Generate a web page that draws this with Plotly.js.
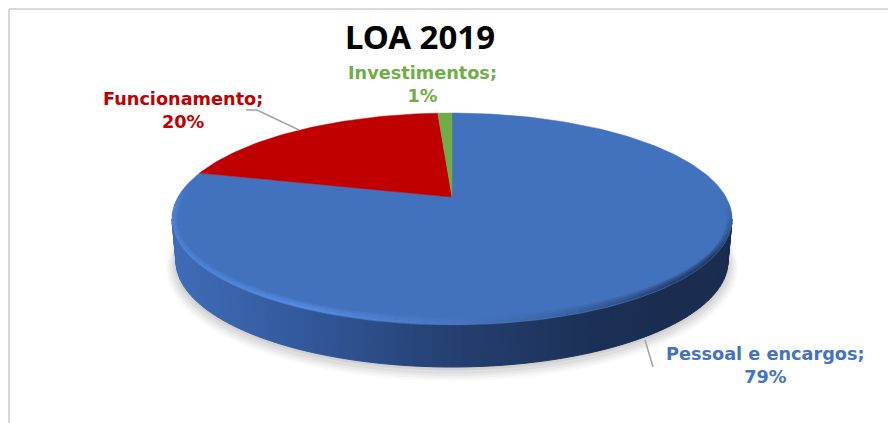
<!DOCTYPE html>
<html><head><meta charset="utf-8">
<script src="https://cdn.plot.ly/plotly-3.0.1.min.js"></script>
<style>html,body{margin:0;padding:0;background:#fff}#c{width:888px;height:423px}</style>
</head><body><div id="c"></div>
<script>
const categories = ['Pessoal e encargos', 'Funcionamento', 'Investimentos'];
const values = [79, 20, 1];
const sliceColors = ['#4271BD', '#C00000', '#70AD47'];
const labelColors = ['#4472C4', '#C00000', '#70AD47'];
const chartTitle = 'LOA 2019';

// projection of the tilted disc
const cx = 452, apexY = 197, A = 274, B = 101.4, K = 0.2075;
const ellipseY = 219, rx = 280, ry = 106, depth = 42;

function rgbInterp(stops, x) {
  if (x <= stops[0][0]) return stops[0][1];
  for (let i = 1; i < stops.length; i++) {
    if (x <= stops[i][0]) {
      const f = (x - stops[i-1][0]) / (stops[i][0] - stops[i-1][0]);
      const a = stops[i-1][1], b = stops[i][1];
      return a.map((v, j) => v + (b[j] - v) * f);
    }
  }
  return stops[stops.length-1][1];
}
const asRgb = c => 'rgb(' + c.map(Math.round).join(',') + ')';
const mix = (c, d, f) => c.map((v, i) => v + (d[i] - v) * f);
const faceRgb = [66, 113, 189];
const base = {type:'scatter', mode:'lines', hoverinfo:'skip', showlegend:false};
const traces = [];

// soft shadow
[[10,7,0.025],[8,6,0.03],[6,5,0.035],[4,4,0.04],[2,2,0.05],[0,1,0.05]].forEach(([g,o,al]) => {
  const xs = [], ys = [];
  for (let t = 0; t <= 360; t += 3) {
    xs.push(cx + (276 + g) * Math.cos(t*Math.PI/180));
    ys.push(ellipseY + depth + o + (ry + g*0.7) * Math.sin(t*Math.PI/180));
  }
  traces.push({...base, x:xs, y:ys, fill:'toself', fillcolor:'rgba(0,0,0,'+al+')', line:{width:0}});
});

// side wall
const wallStops = [[170,[64,108,184]],[300,[50,88,155]],[450,[36,63,112]],[600,[27,47,85]],[680,[26,44,79]]];
for (let t = 180; t > 0; t -= 2) {
  const a = t*Math.PI/180, b = (t-2)*Math.PI/180;
  const xs = [cx+rx*Math.cos(a), cx+rx*Math.cos(b), cx+276*Math.cos(b), cx+276*Math.cos(a)];
  const ys = [ellipseY+ry*Math.sin(a), ellipseY+ry*Math.sin(b), ellipseY+depth+ry*Math.sin(b), ellipseY+depth+ry*Math.sin(a)];
  const col = asRgb(rgbInterp(wallStops, xs[0]));
  traces.push({...base, x:[...xs, xs[0]], y:[...ys, ys[0]], fill:'toself', fillcolor:col, line:{width:1, color:col}});
}

// top face slices, from the values
const total = values.reduce((s, v) => s + v, 0);
let acc = 0;
values.forEach((v, i) => {
  const xs = [cx], ys = [apexY], n = Math.ceil(v * 3) + 2;
  for (let j = 0; j <= n; j++) {
    const th = 2 * Math.PI * (acc + v * j / n) / total;
    const d = 1 + K * Math.cos(th);
    xs.push(cx + A * Math.sin(th) / d);
    ys.push(apexY - B * Math.cos(th) / d);
  }
  xs.push(cx); ys.push(apexY);
  traces.push({...base, name:categories[i], x:xs, y:ys, fill:'toself', fillcolor:sliceColors[i], line:{width:0.5, color:sliceColors[i]}});
  acc += v;
});

// bevelled rim, soft towards the inside and faded at both ends
const rimStops = [[170,[76,128,210]],[300,[86,140,224]],[450,[72,118,190]],[560,[58,98,164]],[680,[36,62,108]],[735,[34,58,100]]];
[[6.5,4,0.35,3],[4.5,3,0.7,2.5],[2,1.2,1,2.5]].forEach(([inY,inX,strength,w]) => {
  for (let t = 198; t > -6; t -= 3) {
    const a = t*Math.PI/180, b = (t-3)*Math.PI/180;
    const xs = [cx+(rx-inX)*Math.cos(a), cx+(rx-inX)*Math.cos(b)];
    const ys = [ellipseY+(ry-inY)*Math.sin(a), ellipseY+(ry-inY)*Math.sin(b)];
    const c = rgbInterp(rimStops, xs[0]);
    const fade = Math.min(1, (t + 6) / 30, (198 - t) / 12 + 0.2);
    traces.push({...base, x:xs, y:ys, line:{width:w, color:asRgb(mix(faceRgb, c, strength * fade))}});
  }
});

const lbl = (i, x, y) => ({
  x, y, xref:'x', yref:'y', showarrow:false, align:'center', xanchor:'center', yanchor:'middle',
  text: '<b>' + categories[i] + ';</b><br><b>' + values[i] + '%</b>',
  font:{family:'"DejaVu Sans", Verdana, sans-serif', size:17.7, color:labelColors[i]},
});
const annotations = [lbl(0, 765, 365.5), lbl(1, 183, 110.5), lbl(2, 422, 84)];

const gray = {color:'#A6A6A6', width:1.6};
const frame = {color:'#D9D9D9', width:2};
const shapes = [
  {type:'line', xref:'x', yref:'y', x0:9, y0:9, x1:888, y1:9, line:frame},
  {type:'line', xref:'x', yref:'y', x0:9, y0:9, x1:9, y1:423, line:frame},
  {type:'line', xref:'x', yref:'y', x0:246, y0:110, x1:257, y1:110, line:gray},
  {type:'line', xref:'x', yref:'y', x0:257, y0:110, x1:299, y1:130, line:gray},
  {type:'line', xref:'x', yref:'y', x0:645, y0:340, x1:653, y1:367, line:gray},
];
const hidden = {visible:false, fixedrange:true};
Plotly.newPlot('c', traces, {
  width:888, height:423, margin:{l:0,r:0,t:0,b:0}, paper_bgcolor:'#fff', plot_bgcolor:'#fff',
  showlegend:false, hovermode:false,
  title:{text:'<b>'+chartTitle+'</b>', x:420/888, xanchor:'center', y:1-37/423, yanchor:'middle',
         font:{family:'"Noto Sans", sans-serif', size:33, color:'#000'}},
  xaxis:{...hidden, range:[0,888]}, yaxis:{...hidden, range:[423,0]},
  annotations, shapes,
}, {displayModeBar:false, staticPlot:true});
</script></body></html>
